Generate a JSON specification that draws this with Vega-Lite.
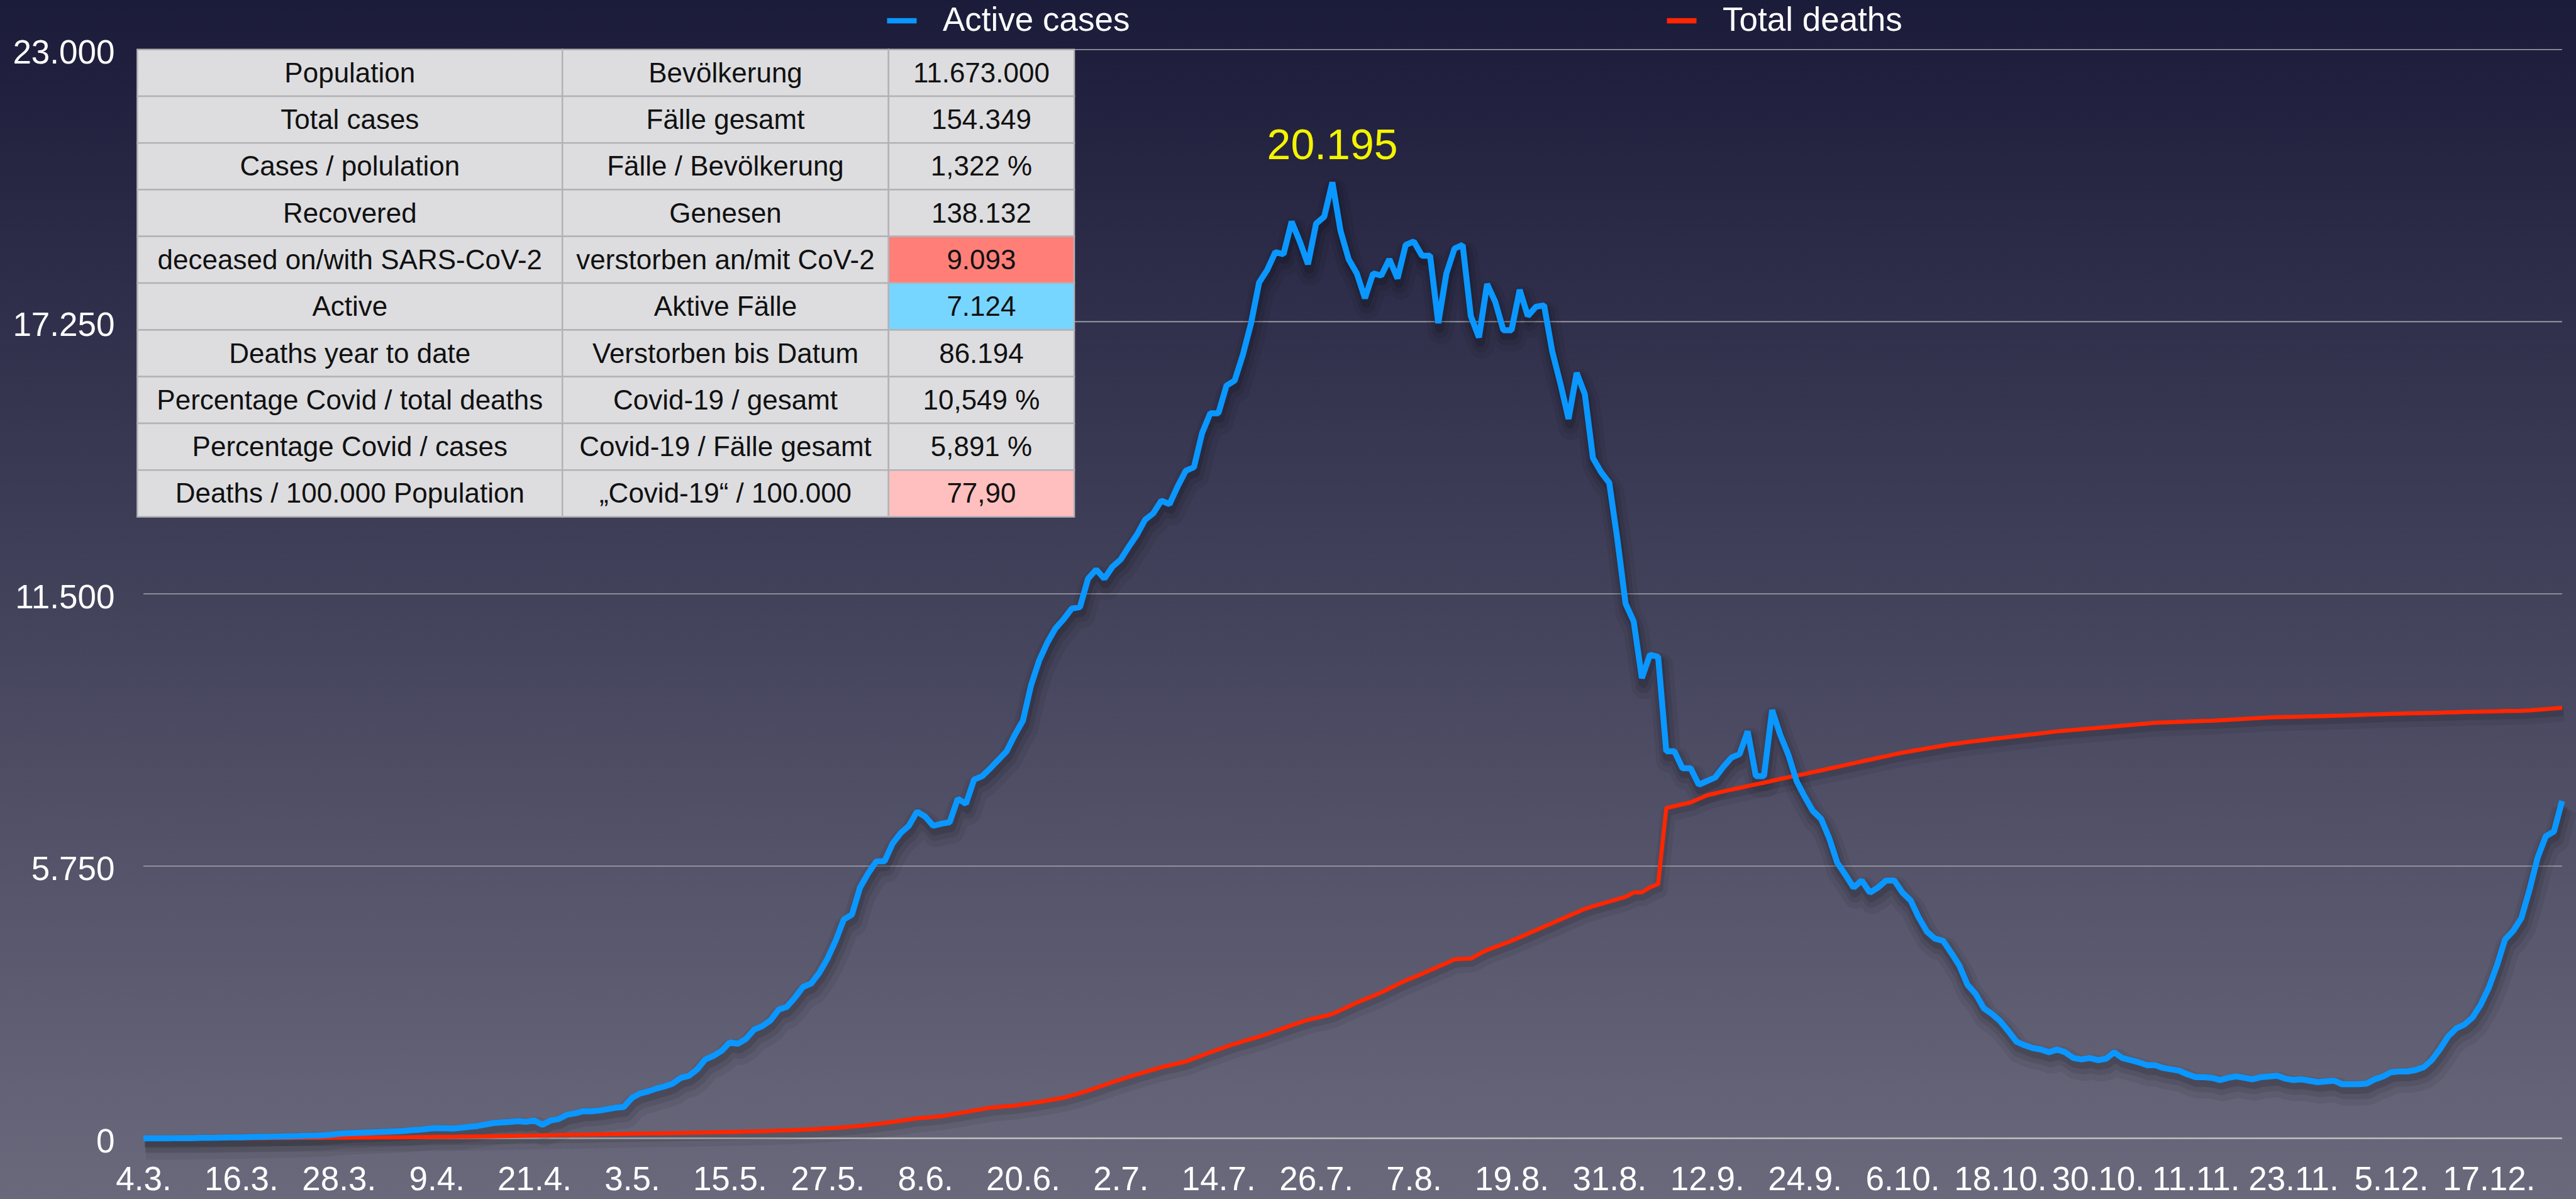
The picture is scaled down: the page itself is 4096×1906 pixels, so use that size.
{
"$schema": "https://vega.github.io/schema/vega-lite/v6.json",
"width": 4096, "height": 1906, "autosize": "none", "padding": 0,
"background": "#1b1b3a",
"config": {"view": {"stroke": null}, "font": "Liberation Sans", "axis": {"labelFont": "Liberation Sans", "grid": false, "domain": false, "ticks": false, "title": null}, "legend": {"labelFont": "Liberation Sans"}, "text": {"font": "Liberation Sans"}},
"datasets": {
"grid": [{"v": 0}, {"v": 5750}, {"v": 11500}, {"v": 17250}, {"v": 23000}],
"peak": [{"date": "2020-07-28", "active": 20195, "label": "20.195"}],
"table": [
{"row": 0, "en": "Population", "de": "Bevölkerung", "val": "11.673.000"},
{"row": 1, "en": "Total cases", "de": "Fälle gesamt", "val": "154.349"},
{"row": 2, "en": "Cases / polulation", "de": "Fälle / Bevölkerung", "val": "1,322 %"},
{"row": 3, "en": "Recovered", "de": "Genesen", "val": "138.132"},
{"row": 4, "en": "deceased on/with SARS-CoV-2", "de": "verstorben an/mit CoV-2", "val": "9.093"},
{"row": 5, "en": "Active", "de": "Aktive Fälle", "val": "7.124"},
{"row": 6, "en": "Deaths year to date", "de": "Verstorben bis Datum", "val": "86.194"},
{"row": 7, "en": "Percentage Covid / total deaths", "de": "Covid-19 / gesamt", "val": "10,549 %"},
{"row": 8, "en": "Percentage Covid / cases", "de": "Covid-19 / Fälle gesamt", "val": "5,891 %"},
{"row": 9, "en": "Deaths / 100.000 Population", "de": "„Covid-19“ / 100.000", "val": "77,90"}
],
"series": [
{"date":"2020-03-04","active":0,"deaths":0},
{"date":"2020-03-05","active":0,"deaths":0},
{"date":"2020-03-06","active":0,"deaths":0},
{"date":"2020-03-07","active":0,"deaths":0},
{"date":"2020-03-08","active":1,"deaths":0},
{"date":"2020-03-09","active":2,"deaths":0},
{"date":"2020-03-10","active":3,"deaths":0},
{"date":"2020-03-11","active":8,"deaths":0},
{"date":"2020-03-12","active":10,"deaths":0},
{"date":"2020-03-13","active":12,"deaths":0},
{"date":"2020-03-14","active":15,"deaths":1},
{"date":"2020-03-15","active":18,"deaths":1},
{"date":"2020-03-16","active":20,"deaths":2},
{"date":"2020-03-17","active":25,"deaths":2},
{"date":"2020-03-18","active":30,"deaths":3},
{"date":"2020-03-19","active":33,"deaths":3},
{"date":"2020-03-20","active":35,"deaths":4},
{"date":"2020-03-21","active":38,"deaths":5},
{"date":"2020-03-22","active":42,"deaths":6},
{"date":"2020-03-23","active":45,"deaths":7},
{"date":"2020-03-24","active":50,"deaths":8},
{"date":"2020-03-25","active":55,"deaths":9},
{"date":"2020-03-26","active":60,"deaths":10},
{"date":"2020-03-27","active":75,"deaths":11},
{"date":"2020-03-28","active":95,"deaths":12},
{"date":"2020-03-29","active":105,"deaths":13},
{"date":"2020-03-30","active":110,"deaths":14},
{"date":"2020-03-31","active":118,"deaths":15},
{"date":"2020-04-01","active":125,"deaths":16},
{"date":"2020-04-02","active":130,"deaths":17},
{"date":"2020-04-03","active":138,"deaths":18},
{"date":"2020-04-04","active":145,"deaths":19},
{"date":"2020-04-05","active":155,"deaths":20},
{"date":"2020-04-06","active":170,"deaths":22},
{"date":"2020-04-07","active":180,"deaths":24},
{"date":"2020-04-08","active":200,"deaths":26},
{"date":"2020-04-09","active":215,"deaths":28},
{"date":"2020-04-10","active":210,"deaths":30},
{"date":"2020-04-11","active":205,"deaths":32},
{"date":"2020-04-12","active":220,"deaths":34},
{"date":"2020-04-13","active":240,"deaths":36},
{"date":"2020-04-14","active":258,"deaths":38},
{"date":"2020-04-15","active":290,"deaths":40},
{"date":"2020-04-16","active":320,"deaths":43},
{"date":"2020-04-17","active":335,"deaths":46},
{"date":"2020-04-18","active":345,"deaths":49},
{"date":"2020-04-19","active":360,"deaths":52},
{"date":"2020-04-20","active":345,"deaths":55},
{"date":"2020-04-21","active":375,"deaths":58},
{"date":"2020-04-22","active":285,"deaths":61},
{"date":"2020-04-23","active":375,"deaths":64},
{"date":"2020-04-24","active":405,"deaths":67},
{"date":"2020-04-25","active":495,"deaths":70},
{"date":"2020-04-26","active":525,"deaths":73},
{"date":"2020-04-27","active":570,"deaths":76},
{"date":"2020-04-28","active":570,"deaths":79},
{"date":"2020-04-29","active":585,"deaths":82},
{"date":"2020-04-30","active":615,"deaths":85},
{"date":"2020-05-01","active":645,"deaths":88},
{"date":"2020-05-02","active":660,"deaths":91},
{"date":"2020-05-03","active":855,"deaths":94},
{"date":"2020-05-04","active":945,"deaths":97},
{"date":"2020-05-05","active":990,"deaths":100},
{"date":"2020-05-06","active":1050,"deaths":103},
{"date":"2020-05-07","active":1095,"deaths":106},
{"date":"2020-05-08","active":1155,"deaths":109},
{"date":"2020-05-09","active":1275,"deaths":112},
{"date":"2020-05-10","active":1320,"deaths":115},
{"date":"2020-05-11","active":1455,"deaths":118},
{"date":"2020-05-12","active":1665,"deaths":121},
{"date":"2020-05-13","active":1740,"deaths":124},
{"date":"2020-05-14","active":1845,"deaths":128},
{"date":"2020-05-15","active":2025,"deaths":132},
{"date":"2020-05-16","active":1995,"deaths":136},
{"date":"2020-05-17","active":2100,"deaths":140},
{"date":"2020-05-18","active":2295,"deaths":144},
{"date":"2020-05-19","active":2370,"deaths":149},
{"date":"2020-05-20","active":2490,"deaths":154},
{"date":"2020-05-21","active":2715,"deaths":160},
{"date":"2020-05-22","active":2775,"deaths":166},
{"date":"2020-05-23","active":2970,"deaths":172},
{"date":"2020-05-24","active":3195,"deaths":180},
{"date":"2020-05-25","active":3270,"deaths":188},
{"date":"2020-05-26","active":3495,"deaths":197},
{"date":"2020-05-27","active":3795,"deaths":207},
{"date":"2020-05-28","active":4170,"deaths":218},
{"date":"2020-05-29","active":4620,"deaths":232},
{"date":"2020-05-30","active":4725,"deaths":246},
{"date":"2020-05-31","active":5295,"deaths":262},
{"date":"2020-06-01","active":5595,"deaths":280},
{"date":"2020-06-02","active":5850,"deaths":300},
{"date":"2020-06-03","active":5850,"deaths":322},
{"date":"2020-06-04","active":6225,"deaths":345},
{"date":"2020-06-05","active":6450,"deaths":370},
{"date":"2020-06-06","active":6600,"deaths":395},
{"date":"2020-06-07","active":6900,"deaths":420},
{"date":"2020-06-08","active":6795,"deaths":435},
{"date":"2020-06-09","active":6600,"deaths":450},
{"date":"2020-06-10","active":6645,"deaths":465},
{"date":"2020-06-11","active":6675,"deaths":495},
{"date":"2020-06-12","active":7170,"deaths":525},
{"date":"2020-06-13","active":7065,"deaths":555},
{"date":"2020-06-14","active":7575,"deaths":585},
{"date":"2020-06-15","active":7650,"deaths":615},
{"date":"2020-06-16","active":7815,"deaths":645},
{"date":"2020-06-17","active":7995,"deaths":660},
{"date":"2020-06-18","active":8175,"deaths":675},
{"date":"2020-06-19","active":8520,"deaths":690},
{"date":"2020-06-20","active":8820,"deaths":715},
{"date":"2020-06-21","active":9570,"deaths":740},
{"date":"2020-06-22","active":10095,"deaths":765},
{"date":"2020-06-23","active":10470,"deaths":795},
{"date":"2020-06-24","active":10770,"deaths":825},
{"date":"2020-06-25","active":10965,"deaths":855},
{"date":"2020-06-26","active":11190,"deaths":905},
{"date":"2020-06-27","active":11220,"deaths":955},
{"date":"2020-06-28","active":11820,"deaths":1005},
{"date":"2020-06-29","active":12015,"deaths":1065},
{"date":"2020-06-30","active":11820,"deaths":1125},
{"date":"2020-07-01","active":12075,"deaths":1185},
{"date":"2020-07-02","active":12225,"deaths":1240},
{"date":"2020-07-03","active":12495,"deaths":1295},
{"date":"2020-07-04","active":12750,"deaths":1350},
{"date":"2020-07-05","active":13065,"deaths":1400},
{"date":"2020-07-06","active":13200,"deaths":1450},
{"date":"2020-07-07","active":13470,"deaths":1500},
{"date":"2020-07-08","active":13395,"deaths":1540},
{"date":"2020-07-09","active":13770,"deaths":1580},
{"date":"2020-07-10","active":14100,"deaths":1620},
{"date":"2020-07-11","active":14175,"deaths":1685},
{"date":"2020-07-12","active":14895,"deaths":1750},
{"date":"2020-07-13","active":15315,"deaths":1815},
{"date":"2020-07-14","active":15315,"deaths":1875},
{"date":"2020-07-15","active":15900,"deaths":1935},
{"date":"2020-07-16","active":16005,"deaths":1995},
{"date":"2020-07-17","active":16545,"deaths":2045},
{"date":"2020-07-18","active":17205,"deaths":2095},
{"date":"2020-07-19","active":18075,"deaths":2145},
{"date":"2020-07-20","active":18345,"deaths":2205},
{"date":"2020-07-21","active":18720,"deaths":2265},
{"date":"2020-07-22","active":18675,"deaths":2325},
{"date":"2020-07-23","active":19365,"deaths":2385},
{"date":"2020-07-24","active":18945,"deaths":2445},
{"date":"2020-07-25","active":18465,"deaths":2500},
{"date":"2020-07-26","active":19320,"deaths":2540},
{"date":"2020-07-27","active":19470,"deaths":2580},
{"date":"2020-07-28","active":20195,"deaths":2625},
{"date":"2020-07-29","active":19170,"deaths":2705},
{"date":"2020-07-30","active":18570,"deaths":2785},
{"date":"2020-07-31","active":18270,"deaths":2865},
{"date":"2020-08-01","active":17745,"deaths":2935},
{"date":"2020-08-02","active":18270,"deaths":3005},
{"date":"2020-08-03","active":18225,"deaths":3080},
{"date":"2020-08-04","active":18570,"deaths":3165},
{"date":"2020-08-05","active":18165,"deaths":3250},
{"date":"2020-08-06","active":18870,"deaths":3330},
{"date":"2020-08-07","active":18945,"deaths":3400},
{"date":"2020-08-08","active":18645,"deaths":3475},
{"date":"2020-08-09","active":18645,"deaths":3550},
{"date":"2020-08-10","active":17220,"deaths":3625},
{"date":"2020-08-11","active":18270,"deaths":3700},
{"date":"2020-08-12","active":18795,"deaths":3780},
{"date":"2020-08-13","active":18870,"deaths":3790},
{"date":"2020-08-14","active":17370,"deaths":3795},
{"date":"2020-08-15","active":16920,"deaths":3890},
{"date":"2020-08-16","active":18045,"deaths":3975},
{"date":"2020-08-17","active":17670,"deaths":4040},
{"date":"2020-08-18","active":17070,"deaths":4105},
{"date":"2020-08-19","active":17070,"deaths":4170},
{"date":"2020-08-20","active":17925,"deaths":4245},
{"date":"2020-08-21","active":17370,"deaths":4320},
{"date":"2020-08-22","active":17565,"deaths":4395},
{"date":"2020-08-23","active":17595,"deaths":4470},
{"date":"2020-08-24","active":16620,"deaths":4545},
{"date":"2020-08-25","active":15945,"deaths":4620},
{"date":"2020-08-26","active":15195,"deaths":4695},
{"date":"2020-08-27","active":16170,"deaths":4770},
{"date":"2020-08-28","active":15720,"deaths":4845},
{"date":"2020-08-29","active":14370,"deaths":4900},
{"date":"2020-08-30","active":14070,"deaths":4950},
{"date":"2020-08-31","active":13845,"deaths":5000},
{"date":"2020-09-01","active":12645,"deaths":5050},
{"date":"2020-09-02","active":11295,"deaths":5100},
{"date":"2020-09-03","active":10920,"deaths":5190},
{"date":"2020-09-04","active":9720,"deaths":5195},
{"date":"2020-09-05","active":10215,"deaths":5300},
{"date":"2020-09-06","active":10170,"deaths":5370},
{"date":"2020-09-07","active":8175,"deaths":6975},
{"date":"2020-09-08","active":8175,"deaths":7015},
{"date":"2020-09-09","active":7815,"deaths":7055},
{"date":"2020-09-10","active":7815,"deaths":7095},
{"date":"2020-09-11","active":7470,"deaths":7170},
{"date":"2020-09-12","active":7545,"deaths":7245},
{"date":"2020-09-13","active":7620,"deaths":7285},
{"date":"2020-09-14","active":7845,"deaths":7325},
{"date":"2020-09-15","active":8040,"deaths":7365},
{"date":"2020-09-16","active":8115,"deaths":7400},
{"date":"2020-09-17","active":8595,"deaths":7440},
{"date":"2020-09-18","active":7650,"deaths":7475},
{"date":"2020-09-19","active":7650,"deaths":7510},
{"date":"2020-09-20","active":9045,"deaths":7550},
{"date":"2020-09-21","active":8520,"deaths":7590},
{"date":"2020-09-22","active":8100,"deaths":7625},
{"date":"2020-09-23","active":7545,"deaths":7660},
{"date":"2020-09-24","active":7215,"deaths":7695},
{"date":"2020-09-25","active":6915,"deaths":7735},
{"date":"2020-09-26","active":6750,"deaths":7770},
{"date":"2020-09-27","active":6345,"deaths":7810},
{"date":"2020-09-28","active":5820,"deaths":7845},
{"date":"2020-09-29","active":5565,"deaths":7885},
{"date":"2020-09-30","active":5295,"deaths":7920},
{"date":"2020-10-01","active":5445,"deaths":7960},
{"date":"2020-10-02","active":5190,"deaths":7995},
{"date":"2020-10-03","active":5295,"deaths":8035},
{"date":"2020-10-04","active":5445,"deaths":8070},
{"date":"2020-10-05","active":5445,"deaths":8110},
{"date":"2020-10-06","active":5190,"deaths":8145},
{"date":"2020-10-07","active":5025,"deaths":8175},
{"date":"2020-10-08","active":4665,"deaths":8205},
{"date":"2020-10-09","active":4365,"deaths":8235},
{"date":"2020-10-10","active":4215,"deaths":8265},
{"date":"2020-10-11","active":4170,"deaths":8295},
{"date":"2020-10-12","active":3915,"deaths":8325},
{"date":"2020-10-13","active":3645,"deaths":8345},
{"date":"2020-10-14","active":3240,"deaths":8370},
{"date":"2020-10-15","active":3045,"deaths":8390},
{"date":"2020-10-16","active":2745,"deaths":8410},
{"date":"2020-10-17","active":2625,"deaths":8435},
{"date":"2020-10-18","active":2475,"deaths":8455},
{"date":"2020-10-19","active":2265,"deaths":8475},
{"date":"2020-10-20","active":2040,"deaths":8495},
{"date":"2020-10-21","active":1965,"deaths":8515},
{"date":"2020-10-22","active":1905,"deaths":8535},
{"date":"2020-10-23","active":1875,"deaths":8555},
{"date":"2020-10-24","active":1815,"deaths":8575},
{"date":"2020-10-25","active":1875,"deaths":8595},
{"date":"2020-10-26","active":1815,"deaths":8610},
{"date":"2020-10-27","active":1695,"deaths":8625},
{"date":"2020-10-28","active":1665,"deaths":8640},
{"date":"2020-10-29","active":1695,"deaths":8655},
{"date":"2020-10-30","active":1650,"deaths":8670},
{"date":"2020-10-31","active":1680,"deaths":8685},
{"date":"2020-11-01","active":1815,"deaths":8700},
{"date":"2020-11-02","active":1695,"deaths":8715},
{"date":"2020-11-03","active":1650,"deaths":8730},
{"date":"2020-11-04","active":1605,"deaths":8745},
{"date":"2020-11-05","active":1545,"deaths":8760},
{"date":"2020-11-06","active":1545,"deaths":8775},
{"date":"2020-11-07","active":1485,"deaths":8782},
{"date":"2020-11-08","active":1455,"deaths":8789},
{"date":"2020-11-09","active":1425,"deaths":8796},
{"date":"2020-11-10","active":1350,"deaths":8803},
{"date":"2020-11-11","active":1290,"deaths":8810},
{"date":"2020-11-12","active":1290,"deaths":8815},
{"date":"2020-11-13","active":1275,"deaths":8820},
{"date":"2020-11-14","active":1230,"deaths":8830},
{"date":"2020-11-15","active":1275,"deaths":8840},
{"date":"2020-11-16","active":1305,"deaths":8850},
{"date":"2020-11-17","active":1275,"deaths":8860},
{"date":"2020-11-18","active":1245,"deaths":8870},
{"date":"2020-11-19","active":1290,"deaths":8880},
{"date":"2020-11-20","active":1305,"deaths":8888},
{"date":"2020-11-21","active":1320,"deaths":8895},
{"date":"2020-11-22","active":1260,"deaths":8899},
{"date":"2020-11-23","active":1230,"deaths":8903},
{"date":"2020-11-24","active":1245,"deaths":8907},
{"date":"2020-11-25","active":1215,"deaths":8911},
{"date":"2020-11-26","active":1185,"deaths":8915},
{"date":"2020-11-27","active":1200,"deaths":8920},
{"date":"2020-11-28","active":1215,"deaths":8925},
{"date":"2020-11-29","active":1140,"deaths":8930},
{"date":"2020-11-30","active":1140,"deaths":8936},
{"date":"2020-12-01","active":1140,"deaths":8942},
{"date":"2020-12-02","active":1155,"deaths":8948},
{"date":"2020-12-03","active":1245,"deaths":8954},
{"date":"2020-12-04","active":1305,"deaths":8960},
{"date":"2020-12-05","active":1395,"deaths":8965},
{"date":"2020-12-06","active":1410,"deaths":8970},
{"date":"2020-12-07","active":1410,"deaths":8974},
{"date":"2020-12-08","active":1440,"deaths":8978},
{"date":"2020-12-09","active":1500,"deaths":8982},
{"date":"2020-12-10","active":1650,"deaths":8986},
{"date":"2020-12-11","active":1880,"deaths":8990},
{"date":"2020-12-12","active":2150,"deaths":8995},
{"date":"2020-12-13","active":2320,"deaths":9000},
{"date":"2020-12-14","active":2400,"deaths":9004},
{"date":"2020-12-15","active":2550,"deaths":9008},
{"date":"2020-12-16","active":2820,"deaths":9012},
{"date":"2020-12-17","active":3180,"deaths":9016},
{"date":"2020-12-18","active":3650,"deaths":9020},
{"date":"2020-12-19","active":4200,"deaths":9024},
{"date":"2020-12-20","active":4380,"deaths":9027},
{"date":"2020-12-21","active":4650,"deaths":9030},
{"date":"2020-12-22","active":5250,"deaths":9040},
{"date":"2020-12-23","active":5930,"deaths":9052},
{"date":"2020-12-24","active":6380,"deaths":9065},
{"date":"2020-12-25","active":6480,"deaths":9080},
{"date":"2020-12-26","active":7124,"deaths":9093}
]
},
"layer": [
{
"layer": [
{"data": {"values": [{}]},
 "mark": {"type": "rect", "fill": {"gradient": "linear", "x1": 0, "y1": 0, "x2": 0, "y2": 1, "stops": [{"offset": 0, "color": "#1b1b3a"}, {"offset": 1, "color": "#6a697c"}]}}},
{"data": {"name": "grid"}, "transform": [{"filter": "datum.v > 0"}],
 "mark": {"type": "rule", "color": "#a4a4ae", "strokeWidth": 1.6},
 "encoding": {
  "x": {"datum": {"year": 2020, "month": 3, "date": 4, "utc": true}, "type": "temporal"},
  "x2": {"datum": {"year": 2020, "month": 12, "date": 26, "utc": true}},
  "y": {"field": "v", "type": "quantitative"}}},
{"data": {"name": "grid"}, "transform": [{"filter": "datum.v === 0"}],
 "mark": {"type": "rule", "color": "#c2c2c4", "strokeWidth": 2.5},
 "encoding": {
  "x": {"datum": {"year": 2020, "month": 3, "date": 4, "utc": true}, "type": "temporal"},
  "x2": {"datum": {"year": 2020, "month": 12, "date": 26, "utc": true}},
  "y": {"field": "v", "type": "quantitative"}}},
{"data": {"name": "series"},
 "mark": {"type": "line", "color": "#000000", "opacity": 0.06, "strokeWidth": 24, "yOffset": 10, "xOffset": 3, "strokeJoin": "round"},
 "encoding": {"x": {"field": "date", "type": "temporal"}, "y": {"field": "deaths", "type": "quantitative"}}},
{"data": {"name": "series"},
 "mark": {"type": "line", "color": "#000000", "opacity": 0.1, "strokeWidth": 12, "yOffset": 7, "xOffset": 2, "strokeJoin": "round"},
 "encoding": {"x": {"field": "date", "type": "temporal"}, "y": {"field": "deaths", "type": "quantitative"}}},
{"data": {"name": "series"},
 "mark": {"type": "line", "color": "#000000", "opacity": 0.06, "strokeWidth": 40, "yOffset": 14, "xOffset": 4, "strokeJoin": "round"},
 "encoding": {"x": {"field": "date", "type": "temporal"}, "y": {"field": "active", "type": "quantitative"}}},
{"data": {"name": "series"},
 "mark": {"type": "line", "color": "#000000", "opacity": 0.08, "strokeWidth": 26, "yOffset": 11, "xOffset": 3, "strokeJoin": "round"},
 "encoding": {"x": {"field": "date", "type": "temporal"}, "y": {"field": "active", "type": "quantitative"}}},
{"data": {"name": "series"},
 "mark": {"type": "line", "color": "#000000", "opacity": 0.12, "strokeWidth": 15, "yOffset": 8, "xOffset": 2, "strokeJoin": "round"},
 "encoding": {"x": {"field": "date", "type": "temporal"}, "y": {"field": "active", "type": "quantitative"}}},
{"data": {"name": "series"},
 "mark": {"type": "line", "strokeWidth": 6.5, "strokeJoin": "bevel"},
 "encoding": {
  "x": {"field": "date", "type": "temporal"},
  "y": {"field": "deaths", "type": "quantitative"},
  "color": {"datum": "Total deaths", "type": "nominal",
   "scale": {"domain": ["Active cases", "Total deaths"], "range": ["#0a97ff", "#ff2600"]},
   "legend": {"orient": "none", "legendX": 1406, "legendY": 5, "direction": "horizontal", "title": null, "symbolType": "stroke", "symbolSize": 2209, "symbolStrokeWidth": 8.4, "labelFontSize": 53, "labelColor": "#ffffff", "labelOffset": 37, "columnPadding": 836, "padding": 0, "labelLimit": 800, "zindex": 2}}}},
{"data": {"name": "series"},
 "mark": {"type": "line", "strokeWidth": 9.5, "strokeJoin": "bevel"},
 "encoding": {
  "x": {"field": "date", "type": "temporal",
   "scale": {"type": "utc", "domain": [{"year": 2020, "month": 2, "date": 15, "hours": 9, "minutes": 26, "utc": true}, {"year": 2020, "month": 12, "date": 27, "hours": 17, "minutes": 2, "utc": true}]},
   "axis": {"title": null, "domain": false, "ticks": false, "tickSize": 0, "grid": false, "offset": -96.6, "zindex": 2,
    "format": "%-d.%-m.", "labelFontSize": 53, "labelColor": "#ffffff", "labelPadding": 40, "labelBaseline": "top", "labelAngle": 0,
    "labelOverlap": false, "labelFlush": false, "labelBound": false,
    "values": [
     {"year": 2020, "month": 3, "date": 4, "utc": true}, {"year": 2020, "month": 3, "date": 16, "utc": true}, {"year": 2020, "month": 3, "date": 28, "utc": true},
     {"year": 2020, "month": 4, "date": 9, "utc": true}, {"year": 2020, "month": 4, "date": 21, "utc": true}, {"year": 2020, "month": 5, "date": 3, "utc": true},
     {"year": 2020, "month": 5, "date": 15, "utc": true}, {"year": 2020, "month": 5, "date": 27, "utc": true}, {"year": 2020, "month": 6, "date": 8, "utc": true},
     {"year": 2020, "month": 6, "date": 20, "utc": true}, {"year": 2020, "month": 7, "date": 2, "utc": true}, {"year": 2020, "month": 7, "date": 14, "utc": true},
     {"year": 2020, "month": 7, "date": 26, "utc": true}, {"year": 2020, "month": 8, "date": 7, "utc": true}, {"year": 2020, "month": 8, "date": 19, "utc": true},
     {"year": 2020, "month": 8, "date": 31, "utc": true}, {"year": 2020, "month": 9, "date": 12, "utc": true}, {"year": 2020, "month": 9, "date": 24, "utc": true},
     {"year": 2020, "month": 10, "date": 6, "utc": true}, {"year": 2020, "month": 10, "date": 18, "utc": true}, {"year": 2020, "month": 10, "date": 30, "utc": true},
     {"year": 2020, "month": 11, "date": 11, "utc": true}, {"year": 2020, "month": 11, "date": 23, "utc": true}, {"year": 2020, "month": 12, "date": 5, "utc": true},
     {"year": 2020, "month": 12, "date": 17, "utc": true}]}},
  "y": {"field": "active", "type": "quantitative",
   "scale": {"domain": [-1284, 24046], "nice": false, "zero": false},
   "axis": {"title": null, "domain": false, "ticks": false, "tickSize": 0, "grid": false, "offset": -228, "zindex": 2,
    "values": [0, 5750, 11500, 17250, 23000], "labelExpr": "replace(format(datum.value, ','), ',', '.')",
    "labelFontSize": 53, "labelColor": "#ffffff", "labelPadding": 46, "labelOffset": 6,
    "labelOverlap": false, "labelFlush": false, "labelBound": false}},
  "color": {"datum": "Active cases", "type": "nominal",
   "legend": {"orient": "none", "legendX": 1406, "legendY": 5, "direction": "horizontal", "title": null, "symbolType": "stroke", "symbolSize": 2209, "symbolStrokeWidth": 8.4, "labelFontSize": 53, "labelColor": "#ffffff", "labelOffset": 37, "columnPadding": 836, "padding": 0, "labelLimit": 800, "zindex": 2}}}},
{"data": {"name": "peak"},
 "mark": {"type": "text", "fontSize": 68, "color": "#f4f400", "align": "center", "baseline": "middle", "dy": -57},
 "encoding": {"x": {"field": "date", "type": "temporal"}, "y": {"field": "active", "type": "quantitative"}, "text": {"field": "label"}}}
]
},
{
"data": {"name": "table"},
"layer": [
{"mark": {"type": "rect", "fill": "#dddde0", "stroke": "#b3b3b6", "strokeWidth": 2.5},
 "encoding": {
  "x": {"datum": {"year": 2020, "month": 3, "date": 3, "hours": 6, "minutes": 11, "utc": true}, "type": "temporal"},
  "x2": {"datum": {"year": 2020, "month": 4, "date": 24, "hours": 10, "minutes": 48, "utc": true}},
  "y": {"field": "row", "type": "ordinal", "axis": null, "scale": {"type": "band", "domain": [-1,0,1,2,3,4,5,6,7,8,9,10,11,12,13,14,15,16,17,18,19,20,21,22,23], "paddingInner": 0, "paddingOuter": 0.32985, "align": 0.0902}}}},
{"mark": {"type": "rect", "fill": "#dddde0", "stroke": "#b3b3b6", "strokeWidth": 2.5},
 "encoding": {
  "x": {"datum": {"year": 2020, "month": 4, "date": 24, "hours": 10, "minutes": 48, "utc": true}, "type": "temporal"},
  "x2": {"datum": {"year": 2020, "month": 6, "date": 3, "hours": 12, "utc": true}},
  "y": {"field": "row", "type": "ordinal", "axis": null, "scale": {"type": "band", "domain": [-1,0,1,2,3,4,5,6,7,8,9,10,11,12,13,14,15,16,17,18,19,20,21,22,23], "paddingInner": 0, "paddingOuter": 0.32985, "align": 0.0902}}}},
{"mark": {"type": "rect", "stroke": "#b3b3b6", "strokeWidth": 2.5},
 "encoding": {
  "x": {"datum": {"year": 2020, "month": 6, "date": 3, "hours": 12, "utc": true}, "type": "temporal"},
  "x2": {"datum": {"year": 2020, "month": 6, "date": 26, "hours": 7, "minutes": 12, "utc": true}},
  "y": {"field": "row", "type": "ordinal", "axis": null, "scale": {"type": "band", "domain": [-1,0,1,2,3,4,5,6,7,8,9,10,11,12,13,14,15,16,17,18,19,20,21,22,23], "paddingInner": 0, "paddingOuter": 0.32985, "align": 0.0902}},
  "fill": {"condition": [{"test": "datum.row === 4", "value": "#ff7f78"}, {"test": "datum.row === 5", "value": "#76d6ff"}, {"test": "datum.row === 9", "value": "#ffbfbe"}], "value": "#dddde0"}}},
{"mark": {"type": "text", "fontSize": 44, "color": "#111111", "align": "center", "baseline": "middle", "dy": 2},
 "encoding": {
  "x": {"datum": {"year": 2020, "month": 3, "date": 29, "hours": 8, "minutes": 30, "utc": true}, "type": "temporal"},
  "y": {"field": "row", "type": "ordinal", "axis": null, "scale": {"type": "band", "domain": [-1,0,1,2,3,4,5,6,7,8,9,10,11,12,13,14,15,16,17,18,19,20,21,22,23], "paddingInner": 0, "paddingOuter": 0.32985, "align": 0.0902}},
  "text": {"field": "en"}}},
{"mark": {"type": "text", "fontSize": 44, "color": "#111111", "align": "center", "baseline": "middle", "dy": 2},
 "encoding": {
  "x": {"datum": {"year": 2020, "month": 5, "date": 14, "hours": 11, "minutes": 24, "utc": true}, "type": "temporal"},
  "y": {"field": "row", "type": "ordinal", "axis": null, "scale": {"type": "band", "domain": [-1,0,1,2,3,4,5,6,7,8,9,10,11,12,13,14,15,16,17,18,19,20,21,22,23], "paddingInner": 0, "paddingOuter": 0.32985, "align": 0.0902}},
  "text": {"field": "de"}}},
{"mark": {"type": "text", "fontSize": 44, "color": "#111111", "align": "center", "baseline": "middle", "dy": 2},
 "encoding": {
  "x": {"datum": {"year": 2020, "month": 6, "date": 14, "hours": 21, "minutes": 36, "utc": true}, "type": "temporal"},
  "y": {"field": "row", "type": "ordinal", "axis": null, "scale": {"type": "band", "domain": [-1,0,1,2,3,4,5,6,7,8,9,10,11,12,13,14,15,16,17,18,19,20,21,22,23], "paddingInner": 0, "paddingOuter": 0.32985, "align": 0.0902}},
  "text": {"field": "val"}}}
]
}
],
"resolve": {"scale": {"y": "independent"}}
}
